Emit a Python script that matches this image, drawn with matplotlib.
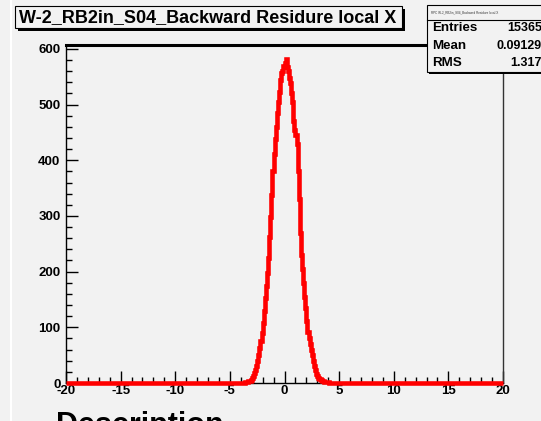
import numpy as np
import matplotlib
matplotlib.use("Agg")
import matplotlib.pyplot as plt
from matplotlib.patches import Rectangle
from matplotlib.lines import Line2D

plt.rcParams["axes.unicode_minus"] = False

# ---- data ----
title = "W-2_RB2in_S04_Backward Residure local X"
stats_title = "RPC W-2_RB2in_S04_Backward Residure local X"
stats_labels = ["Entries", "Mean", "RMS"]
stats_values = ["15365", "0.09129", "1.317"]

x_min, x_max, bin_width = -20.0, 20.0, 0.1
first_nonzero_center = -3.55
counts_nonzero = [1, 1, 2, 3, 4, 6, 9, 13, 18, 24, 31, 40, 51, 63, 75, 90, 108, 130,
                  152, 175, 198, 225, 262, 298, 338, 380, 412, 438, 460, 484, 505, 522,
                  545, 556, 560, 570, 575, 582, 568, 560, 548, 538, 520, 505, 470, 455,
                  445, 430, 380, 330, 270, 230, 205, 180, 155, 135, 112, 92, 80, 70, 60,
                  50, 40, 30, 24, 17, 12, 9, 7, 5, 4, 3, 2, 2, 1, 1, 1]
y_max = 607
x_ticks = [-20, -15, -10, -5, 0, 5, 10, 15, 20]
y_ticks = [0, 100, 200, 300, 400, 500, 600]
bottom_text = "Description"

# ---- build histogram ----
edges = np.round(np.arange(x_min, x_max + bin_width / 2, bin_width), 6)
counts = np.zeros(len(edges) - 1)
start = int(round((first_nonzero_center - bin_width / 2 - x_min) / bin_width))
counts[start:start + len(counts_nonzero)] = counts_nonzero

W, H = 541, 421
fig = plt.figure(figsize=(W / 100, H / 100), dpi=100)
bg = "#f2f2f2"
fig.patch.set_facecolor(bg)
FONT = "Liberation Sans"

def fx(x):
    return x / W

def fy(y):
    return 1 - y / H

# white stripe at left
fig.add_artist(Line2D([fx(11), fx(11)], [0, 1], color="white", lw=1.5, transform=fig.transFigure))

ax_l, ax_r, ax_t, ax_b = 66, 503, 45, 383
ax = fig.add_axes([fx(ax_l), fy(ax_b), (ax_r - ax_l) / W, (ax_b - ax_t) / H])
ax.set_facecolor(bg)
ax.stairs(counts, edges, color="red", lw=3.3, baseline=None, zorder=3, clip_on=False)
ax.set_xlim(x_min, x_max)
ax.set_ylim(0, y_max)
ax.set_xticks(x_ticks)
ax.set_yticks(y_ticks)
ax.set_xticks(np.arange(-20, 21, 1), minor=True)
ax.set_yticks(np.arange(0, 601, 20), minor=True)
ax.tick_params(axis="both", which="major", direction="in", length=8.6, width=1.0,
               top=False, right=False, labelsize=9.5, color="black")
ax.tick_params(axis="y", which="major", pad=4)
ax.tick_params(axis="x", which="major", pad=1.5)
ax.tick_params(axis="both", which="minor", direction="in", length=4.3, width=1.0,
               top=False, right=False)
for lab in ax.get_xticklabels() + ax.get_yticklabels():
    lab.set_fontfamily(FONT)
    lab.set_fontweight("bold")
for s in ["left", "bottom", "right"]:
    ax.spines[s].set_linewidth(1.0)
ax.spines["right"].set_color("#333333")
ax.spines["top"].set_linewidth(2.2)

# title box
tx0, ty0, tx1, ty1 = 15, 6, 402, 28
fig.add_artist(Rectangle((fx(tx0 + 3), fy(ty1 + 3)), (tx1 - tx0) / W, (ty1 - ty0) / H,
                         transform=fig.transFigure, facecolor="black", edgecolor="none"))
fig.add_artist(Rectangle((fx(tx0), fy(ty1)), (tx1 - tx0) / W, (ty1 - ty0) / H,
                         transform=fig.transFigure, facecolor=bg, edgecolor="black", lw=0.8))
fig.text(fx(19), fy(18), title, fontfamily=FONT, fontweight="bold", fontsize=13,
         va="center", ha="left")

# stats box
sx0, sy0, sx1, sy1 = 427, 5, 560, 72
fig.add_artist(Rectangle((fx(sx0 + 2), fy(sy1 + 2)), (sx1 - sx0) / W, (sy1 - sy0) / H,
                         transform=fig.transFigure, facecolor="black", edgecolor="none"))
fig.add_artist(Rectangle((fx(sx0), fy(sy1)), (sx1 - sx0) / W, (sy1 - sy0) / H,
                         transform=fig.transFigure, facecolor=bg, edgecolor="black", lw=0.8))
fig.add_artist(Line2D([fx(sx0), fx(sx1)], [fy(20), fy(20)], color="black", lw=0.8,
                      transform=fig.transFigure))
fig.text(fx(431), fy(12.5), stats_title, fontfamily=FONT, fontsize=2.2, va="center",
         ha="left", color="#333333")
row_y = [28, 46, 63]
for lab, val, yy in zip(stats_labels, stats_values, row_y):
    fig.text(fx(432), fy(yy), lab, fontfamily=FONT, fontweight="bold", fontsize=9.6,
             va="center", ha="left")
    fig.text(fx(542), fy(yy), val, fontfamily=FONT, fontweight="bold", fontsize=9.0,
             va="center", ha="right")

# bottom text (cut off)
fig.text(fx(56), fy(411), bottom_text, fontfamily=FONT, fontweight="bold", fontsize=22,
         va="top", ha="left")

fig.savefig("out.png", dpi=100, facecolor=bg)
